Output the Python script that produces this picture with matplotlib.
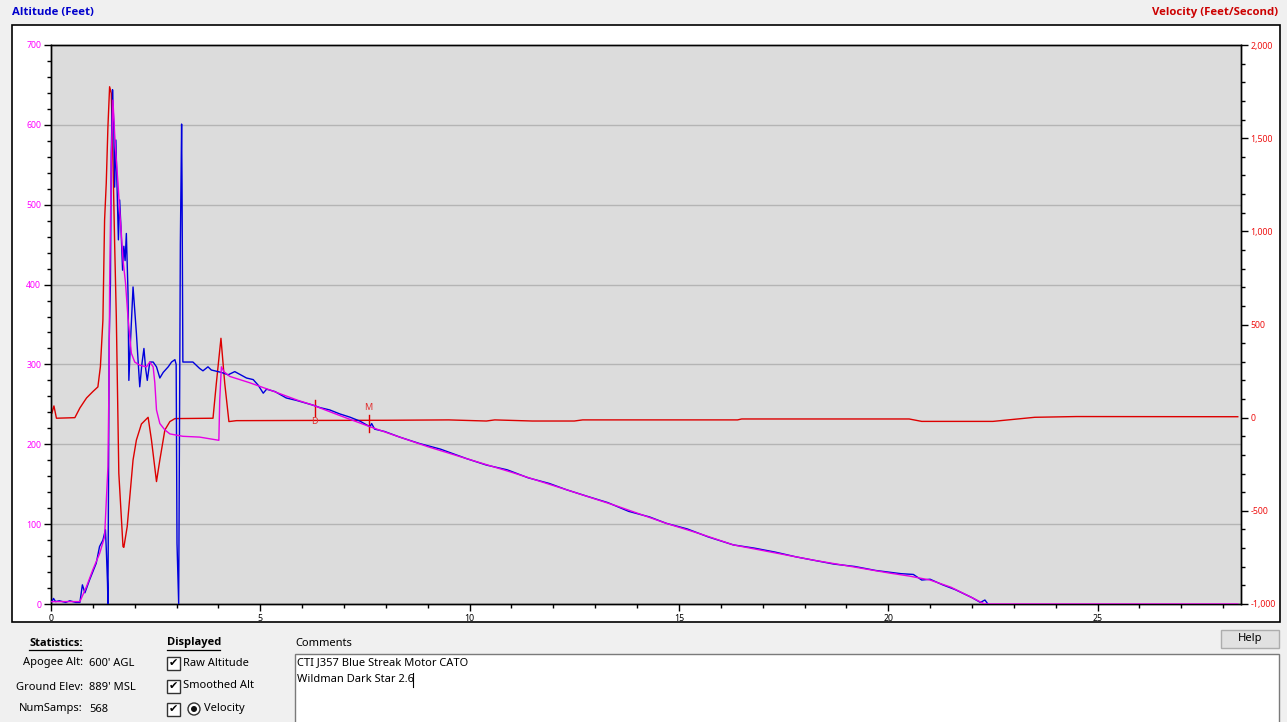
import matplotlib
matplotlib.use("Agg")
import matplotlib.pyplot as plt
from matplotlib.patches import Rectangle, Ellipse
from matplotlib.lines import Line2D
from matplotlib.ticker import MultipleLocator, FuncFormatter

plt.rcParams['font.family'] = ['Noto Sans', 'DejaVu Sans']
BOLD_FAMILY = ['Open Sans', 'Liberation Sans', 'DejaVu Sans']

# ---------------- data ----------------
raw_t = [0.02, 0.06, 0.11, 0.20, 0.35, 0.45, 0.59, 0.69, 0.75, 0.81, 0.92, 1.08, 1.16, 1.24, 1.30,
         1.32, 1.35, 1.36, 1.39, 1.42, 1.44, 1.47, 1.48, 1.50, 1.52, 1.55, 1.58, 1.61, 1.64, 1.67,
         1.71, 1.74, 1.77, 1.80, 1.84, 1.86, 1.90, 1.96, 2.04, 2.08, 2.12, 2.17, 2.22, 2.26, 2.30,
         2.36, 2.44, 2.52, 2.60, 2.68, 2.80, 2.88, 2.96, 2.99, 3.01, 3.05, 3.09, 3.12, 3.13, 3.15,
         3.39, 3.55, 3.63, 3.75, 3.83, 4.07, 4.23, 4.39, 4.53, 4.67, 4.83, 4.95, 5.07, 5.15, 5.35,
         5.62, 5.86, 6.06, 6.26, 6.42, 6.66, 6.90, 7.14, 7.38, 7.55, 7.62, 7.66, 7.73, 7.97, 8.33,
         8.80, 9.30, 9.93, 10.40, 10.90, 11.40, 11.90, 12.32, 12.80, 13.30, 13.80, 14.30, 14.70,
         15.20, 15.70, 16.30, 16.80, 17.30, 17.80, 18.20, 18.70, 19.20, 19.70, 20.00, 20.30, 20.60,
         20.80, 21.00, 21.30, 21.60, 22.00, 22.20, 22.31, 22.38]
raw_alt = [3, 7, 3, 4, 2, 4, 2, 2, 24, 14, 30, 51, 72, 80, 93,
           70, 26, 0, 330, 402, 565, 644, 627, 600, 522, 581, 518, 456, 506, 473,
           418, 448, 430, 464, 389, 280, 330, 397, 339, 305, 272, 300, 320, 295, 280,
           303, 303, 297, 283, 290, 297, 303, 306, 300, 76, 0, 451, 601, 527, 303,
           303, 295, 292, 297, 293, 290, 287, 291, 287, 283, 281, 274, 264, 269, 266,
           258, 255, 252, 249, 246, 243, 238, 234, 229, 224, 222, 226, 219, 216, 209,
           201, 194, 182, 174, 168, 158, 151, 143, 135, 127, 116, 109, 101,
           94, 84, 74, 70, 65, 59, 55, 50, 47, 42, 40, 38, 37,
           30, 31, 24, 18, 8, 2, 5, 0]

smooth_t = [0.02, 0.57, 0.69, 0.85, 1.00, 1.16, 1.28, 1.36, 1.39, 1.40, 1.44, 1.48, 1.52, 1.56,
            1.60, 1.64, 1.68, 1.72, 1.78, 1.84, 1.92, 2.00, 2.12, 2.28, 2.36, 2.44, 2.48, 2.52,
            2.60, 2.72, 2.84, 3.15, 3.55, 4.01, 4.03, 4.07, 4.13, 4.27, 4.75, 5.23, 5.90, 6.26,
            6.50, 7.00, 7.62, 8.00, 8.33, 9.00, 9.93, 11.00, 12.32, 13.50, 14.70, 15.50, 16.30,
            17.00, 18.20, 19.00, 20.00, 20.50, 21.00, 21.50, 22.00, 22.30, 28.35]
smooth_alt = [3, 3, 3, 22, 43, 63, 84, 172, 298, 397, 556, 631, 589, 556,
              527, 493, 464, 431, 402, 358, 314, 303, 299, 297, 303, 297, 277, 243,
              226, 218, 213, 210, 209, 205, 255, 297, 291, 285, 277, 268, 255, 249,
              244, 234, 222, 215, 209, 197, 182, 165, 143, 123, 101, 88, 74,
              67, 55, 48, 39, 35, 30, 21, 8, 0, 0]

vel_t = [0.02, 0.07, 0.13, 0.57, 0.69, 0.79, 0.85, 1.00, 1.12, 1.18, 1.24, 1.28, 1.32, 1.36,
         1.40, 1.44, 1.48, 1.52, 1.56, 1.62, 1.72, 1.74, 1.82, 1.96, 2.04, 2.16, 2.32, 2.40,
         2.52, 2.60, 2.72, 2.84, 2.96, 3.87, 3.95, 4.06, 4.15, 4.25, 4.43, 6.00, 8.00, 9.50,
         10.40, 10.60, 11.50, 12.50, 12.70, 16.40, 16.50, 20.50, 20.80, 22.50, 23.50, 24.50, 28.35]
vel = [24, 63, -3, 0, 52, 86, 106, 140, 165, 274, 523, 1060, 1258, 1562,
       1776, 1741, 1383, 937, 542, -298, -692, -696, -585, -227, -120, -34, 2, -120,
       -343, -227, -66, -21, -5, -3, 185, 426, 185, -21, -16, -15, -14, -12,
       -18, -12, -18, -18, -12, -12, -7, -7, -20, -20, 2, 6, 5]

event_t = [6.30, 7.59]
event_labels = ["D", "M"]

alt_ticks = [0, 100, 200, 300, 400, 500, 600, 700]
vel_ticks = [-1000, -500, 0, 500, 1000, 1500, 2000]
time_ticks = [0, 5, 10, 15, 20, 25]

stats_labels = ["Apogee Alt:", "Ground Elev:", "NumSamps:"]
stats_values = ["600' AGL", "889' MSL", "568"]
displayed_labels = ["Raw Altitude", "Smoothed Alt", "Velocity"]
comment_lines = ["CTI J357 Blue Streak Motor CATO", "Wildman Dark Star 2.6"]

# ---------------- figure ----------------
W, H = 1287, 722
fig = plt.figure(figsize=(W / 100, H / 100), dpi=100, facecolor='#f0f0f0')


def fx(px):
    return px / W


def fy(py):
    return 1 - py / H


BLUE = '#0000dd'
MAG = '#e600e6'
RED = '#dd0000'

# white chart panel
fig.add_artist(Rectangle((fx(12), fy(622)), (1280 - 12) / W, (622 - 25) / H,
                         transform=fig.transFigure, facecolor='white',
                         edgecolor='black', lw=1.2, zorder=0))

ax = fig.add_axes([fx(51), fy(604), (1240.7 - 51) / W, (604 - 45) / H])
ax2 = ax.twinx()
ax2.set_zorder(1)
ax.set_zorder(2)
ax.patch.set_visible(False)
ax2.patch.set_visible(True)
ax2.set_facecolor('#dcdcdc')

ax.set_xlim(0, 28.42)
ax.set_ylim(0, 700)
ax2.set_ylim(-1000, 2000)

for a in (ax, ax2):
    for s in a.spines.values():
        s.set_color('black')
        s.set_linewidth(1.0)

# grid (altitude gridlines)
for v in alt_ticks[1:-1]:
    ax2.axhline(v * 3000 / 700 - 1000, color='#b4b4b4', lw=1.0, zorder=0.5)

# lines
ax2.plot(vel_t, vel, color=RED, lw=1.0, zorder=2)
ax.plot(raw_t, raw_alt, color=BLUE, lw=1.0, zorder=3)
ax.plot(smooth_t, smooth_alt, color=MAG, lw=1.0, zorder=4)

# event markers
ax2.plot([event_t[0], event_t[0]], [95, 10], color=RED, lw=1.0, zorder=5)
ax2.text(event_t[0], -20, event_labels[0], color='#e03030', fontsize=6.5,
         ha='center', va='center', zorder=5)
ax2.plot([event_t[1], event_t[1]], [15, -75], color=RED, lw=1.0, zorder=5)
ax2.text(event_t[1], 55, event_labels[1], color='#e03030', fontsize=6.5,
         ha='center', va='center', zorder=5)

# ticks
ax.set_xticks(time_ticks)
ax.xaxis.set_minor_locator(MultipleLocator(1))
ax.set_yticks(alt_ticks)
ax.yaxis.set_minor_locator(MultipleLocator(20))
ax2.set_yticks(vel_ticks)
ax2.yaxis.set_minor_locator(MultipleLocator(100))
ax2.yaxis.set_major_formatter(FuncFormatter(lambda v, p: f"{int(v):,}"))

ax.tick_params(axis='both', which='major', direction='out', length=5, width=1,
               color='black', labelsize=6.3, pad=2)
ax.tick_params(axis='both', which='minor', direction='out', length=3, width=1, color='black')
ax.tick_params(axis='y', labelcolor='#ff00ff')
ax.tick_params(axis='x', labelcolor='black')
ax2.tick_params(axis='y', which='major', direction='out', length=5, width=1,
                color='black', labelsize=6.3, pad=2, labelcolor='#ee1111')
ax2.tick_params(axis='y', which='minor', direction='out', length=3, width=1, color='black')

# titles
fig.text(fx(12), fy(12), "Altitude (Feet)", color='#0000cc', fontsize=8.2,
         fontweight='bold', ha='left', va='center', family=BOLD_FAMILY)
fig.text(fx(1278), fy(12), "Velocity (Feet/Second)", color='#cc0000', fontsize=8.2,
         fontweight='bold', ha='right', va='center', family=BOLD_FAMILY)

# ---------------- bottom panel ----------------
FS = 8
fig.text(fx(29), fy(643), "Statistics:", fontsize=FS, fontweight='bold',
         ha='left', va='center', family=BOLD_FAMILY)
fig.add_artist(Line2D([fx(29), fx(82)], [fy(649.5), fy(649.5)], color='black', lw=0.9))
rows_y = [663, 687, 709]
for lab, val, y in zip(stats_labels, stats_values, rows_y):
    fig.text(fx(83), fy(y), lab, fontsize=FS, ha='right', va='center')
    fig.text(fx(89), fy(y), val, fontsize=FS, ha='left', va='center')

fig.text(fx(167), fy(643), "Displayed", fontsize=FS, fontweight='bold',
         ha='left', va='center', family=BOLD_FAMILY)
fig.add_artist(Line2D([fx(167), fx(220)], [fy(649.5), fy(649.5)], color='black', lw=0.9))
check_y = [663, 686, 709]
for i, (lab, y) in enumerate(zip(displayed_labels, check_y)):
    fig.add_artist(Rectangle((fx(167), fy(y + 6.5)), 13 / W, 13 / H,
                             transform=fig.transFigure, facecolor='white',
                             edgecolor='#333333', lw=1.0))
    fig.text(fx(173.5), fy(y), "\u2714", fontsize=8, ha='center', va='center',
             family=['DejaVu Sans'])
    if i < 2:
        fig.text(fx(183), fy(y), lab, fontsize=FS, ha='left', va='center')
    else:
        fig.add_artist(Ellipse((fx(194), fy(y)), 12 / W, 12 / H, transform=fig.transFigure,
                               facecolor='white', edgecolor='#333333', lw=1.0))
        fig.add_artist(Ellipse((fx(194), fy(y)), 6 / W, 6 / H, transform=fig.transFigure,
                               facecolor='#111111', edgecolor='none'))
        fig.text(fx(204), fy(y), lab, fontsize=FS, ha='left', va='center')

fig.text(fx(295), fy(643), "Comments", fontsize=FS, ha='left', va='center')
fig.add_artist(Rectangle((fx(295), fy(722 + 5)), (1279 - 295) / W, (722 + 5 - 654) / H,
                         transform=fig.transFigure, facecolor='white',
                         edgecolor='#7a7a7a', lw=1.0))
for line, y in zip(comment_lines, [663, 680]):
    fig.text(fx(297), fy(y), line, fontsize=FS, ha='left', va='center')
fig.add_artist(Line2D([fx(413), fx(413)], [fy(673), fy(687)], color='black', lw=0.8))

# Help button
fig.add_artist(Rectangle((fx(1221), fy(648)), 58 / W, 18 / H, transform=fig.transFigure,
                         facecolor='#e1e1e1', edgecolor='#adadad', lw=1.0))
fig.text(fx(1250), fy(639), "Help", fontsize=FS, ha='center', va='center')

fig.savefig("out.png", dpi=100, facecolor=fig.get_facecolor())
